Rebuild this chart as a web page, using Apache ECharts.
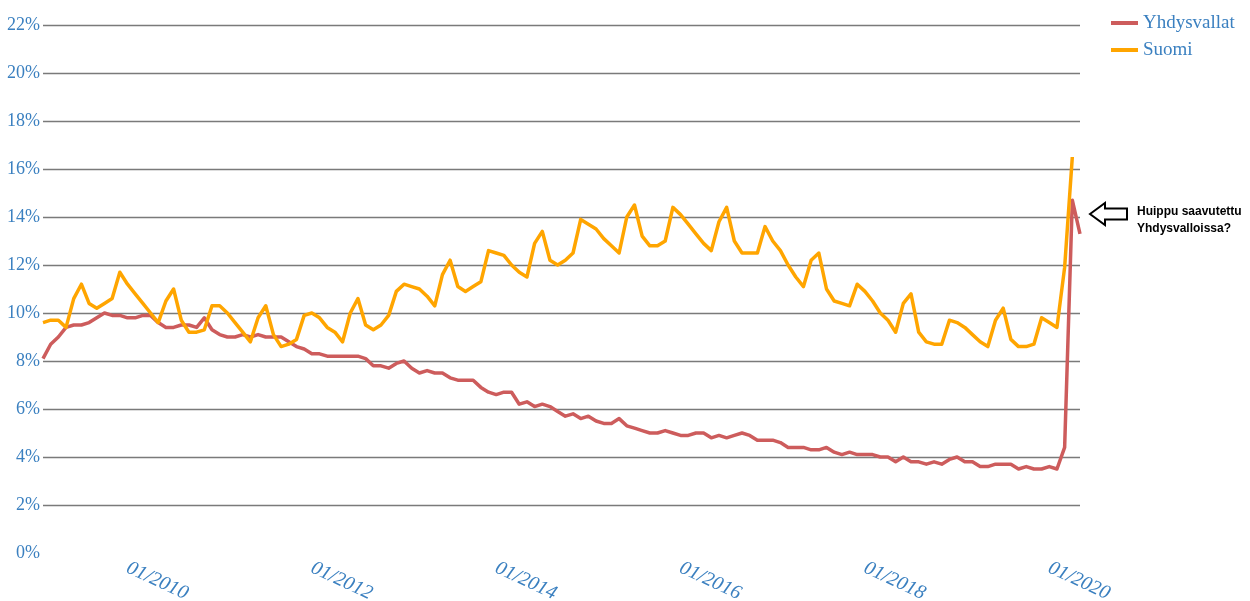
<!DOCTYPE html>
<html>
<head>
<meta charset="utf-8">
<title>Työttömyysaste</title>
<script src="https://cdn.jsdelivr.net/npm/echarts/dist/echarts.min.js"></script>
<style>
    html, body { margin: 0; padding: 0; background: #fff; }
    #chart { width: 1250px; height: 601px; }
</style>
</head>
<body>
<div id="chart"></div>
<script>
// kuukaudet 02/2009 - 05/2020
var startYear = 2009, startMonth = 2, monthCount = 136;
var months = [];
for (var k = 0; k < monthCount; k++) {
    var m = (startMonth - 1 + k) % 12 + 1;
    var y = startYear + Math.floor((startMonth - 1 + k) / 12);
    months.push((m < 10 ? '0' + m : '' + m) + '/' + y);
}

// Yhdysvallat, 02/2009 - 05/2020
var yhdysvallat = [
    8.1, 8.7, 9.0, 9.4, 9.5, 9.5, 9.6, 9.8, 10.0, 9.9, 9.9,
    9.8, 9.8, 9.9, 9.9, 9.6, 9.4, 9.4, 9.5, 9.5, 9.4, 9.8, 9.3,
    9.1, 9.0, 9.0, 9.1, 9.0, 9.1, 9.0, 9.0, 9.0, 8.8, 8.6, 8.5,
    8.3, 8.3, 8.2, 8.2, 8.2, 8.2, 8.2, 8.1, 7.8, 7.8, 7.7, 7.9,
    8.0, 7.7, 7.5, 7.6, 7.5, 7.5, 7.3, 7.2, 7.2, 7.2, 6.9, 6.7,
    6.6, 6.7, 6.7, 6.2, 6.3, 6.1, 6.2, 6.1, 5.9, 5.7, 5.8, 5.6,
    5.7, 5.5, 5.4, 5.4, 5.6, 5.3, 5.2, 5.1, 5.0, 5.0, 5.1, 5.0,
    4.9, 4.9, 5.0, 5.0, 4.8, 4.9, 4.8, 4.9, 5.0, 4.9, 4.7, 4.7,
    4.7, 4.6, 4.4, 4.4, 4.4, 4.3, 4.3, 4.4, 4.2, 4.1, 4.2, 4.1,
    4.1, 4.1, 4.0, 4.0, 3.8, 4.0, 3.8, 3.8, 3.7, 3.8, 3.7, 3.9,
    4.0, 3.8, 3.8, 3.6, 3.6, 3.7, 3.7, 3.7, 3.5, 3.6, 3.5, 3.5,
    3.6, 3.5, 4.4, 14.7, 13.3
];

// Suomi, 02/2009 - 04/2020
var suomi = [
    9.6, 9.7, 9.7, 9.4, 10.6, 11.2, 10.4, 10.2, 10.4, 10.6, 11.7,
    11.2, 10.8, 10.4, 10.0, 9.6, 10.5, 11.0, 9.7, 9.2, 9.2, 9.3, 10.3,
    10.3, 10.0, 9.6, 9.2, 8.8, 9.8, 10.3, 9.1, 8.6, 8.7, 8.9, 9.9,
    10.0, 9.8, 9.4, 9.2, 8.8, 10.0, 10.6, 9.5, 9.3, 9.5, 9.9, 10.9,
    11.2, 11.1, 11.0, 10.7, 10.3, 11.6, 12.2, 11.1, 10.9, 11.1, 11.3, 12.6,
    12.5, 12.4, 12.0, 11.7, 11.5, 12.9, 13.4, 12.2, 12.0, 12.2, 12.5, 13.9,
    13.7, 13.5, 13.1, 12.8, 12.5, 14.0, 14.5, 13.2, 12.8, 12.8, 13.0, 14.4,
    14.1, 13.7, 13.3, 12.9, 12.6, 13.8, 14.4, 13.0, 12.5, 12.5, 12.5, 13.6,
    13.0, 12.6, 12.0, 11.5, 11.1, 12.2, 12.5, 11.0, 10.5, 10.4, 10.3, 11.2,
    10.9, 10.5, 10.0, 9.7, 9.2, 10.4, 10.8, 9.2, 8.8, 8.7, 8.7, 9.7,
    9.6, 9.4, 9.1, 8.8, 8.6, 9.7, 10.2, 8.9, 8.6, 8.6, 8.7, 9.8,
    9.6, 9.4, 11.9, 16.5
];

var yTicks = { min: 0, max: 22, interval: 2 };
var noteLines = ['Huippu saavutettu', 'Yhdysvalloissa?'];

var blue = '#3b80c0';
var gridColors = ['rgba(0,0,0,0)'];
for (var g = 0; g < 11; g++) gridColors.push('#7a7a7a');

var chart = echarts.init(document.getElementById('chart'), null, { renderer: 'canvas' });

var option = {
    backgroundColor: '#ffffff',
    animation: false,
    textStyle: { fontFamily: 'Liberation Serif' },
    grid: {
        left: 43,
        right: 170,
        top: 25,
        bottom: 48,
        containLabel: false,
        outerBoundsMode: 'none'
    },
    legend: {
        orient: 'vertical',
        left: 1106,
        top: 8,
        icon: 'rect',
        itemWidth: 27,
        itemHeight: 4,
        itemGap: 7,
        data: ['Yhdysvallat', 'Suomi'],
        textStyle: {
            color: blue,
            fontSize: 19,
            lineHeight: 20,
            fontFamily: 'Liberation Serif'
        }
    },
    xAxis: {
        type: 'category',
        boundaryGap: false,
        data: months,
        axisLine: { show: false },
        axisTick: { show: false },
        splitLine: { show: false },
        axisLabel: {
            interval: function (index, value) {
                var parts = value.split('/');
                return parts[0] === '01' && (+parts[1]) % 2 === 0;
            },
            rotate: -25,
            margin: 14,
            color: blue,
            fontSize: 20,
            fontStyle: 'italic',
            fontFamily: 'Liberation Serif'
        }
    },
    yAxis: {
        type: 'value',
        min: yTicks.min,
        max: yTicks.max,
        interval: yTicks.interval,
        axisLine: { show: false },
        axisTick: { show: false },
        axisLabel: {
            formatter: '{value}%',
            margin: 3,
            color: blue,
            fontSize: 18,
            fontFamily: 'Liberation Serif'
        },
        splitLine: {
            show: true,
            lineStyle: { color: gridColors, width: 1.3 }
        }
    },
    series: [
        {
            name: 'Yhdysvallat',
            type: 'line',
            data: yhdysvallat,
            showSymbol: false,
            color: '#cd5c5c',
            lineStyle: { width: 3.5, color: '#cd5c5c', join: 'round' }
        },
        {
            name: 'Suomi',
            type: 'line',
            data: suomi,
            showSymbol: false,
            color: '#ffa500',
            lineStyle: { width: 3.5, color: '#ffa500', join: 'round' }
        }
    ],
    graphic: [
        {
            // nuoli kohti huippua
            type: 'polygon',
            shape: {
                points: [[1090, 214], [1105, 203], [1105, 208.5], [1127, 208.5],
                         [1127, 219.5], [1105, 219.5], [1105, 225]]
            },
            style: { fill: '#ffffff', stroke: '#000000', lineWidth: 2 }
        },
        {
            type: 'text',
            left: 1137,
            top: 203,
            style: {
                text: noteLines.join('\n'),
                fill: '#000000',
                font: 'bold 12px "Liberation Sans"',
                lineHeight: 17
            }
        }
    ]
};

chart.setOption(option);
</script>
</body>
</html>
